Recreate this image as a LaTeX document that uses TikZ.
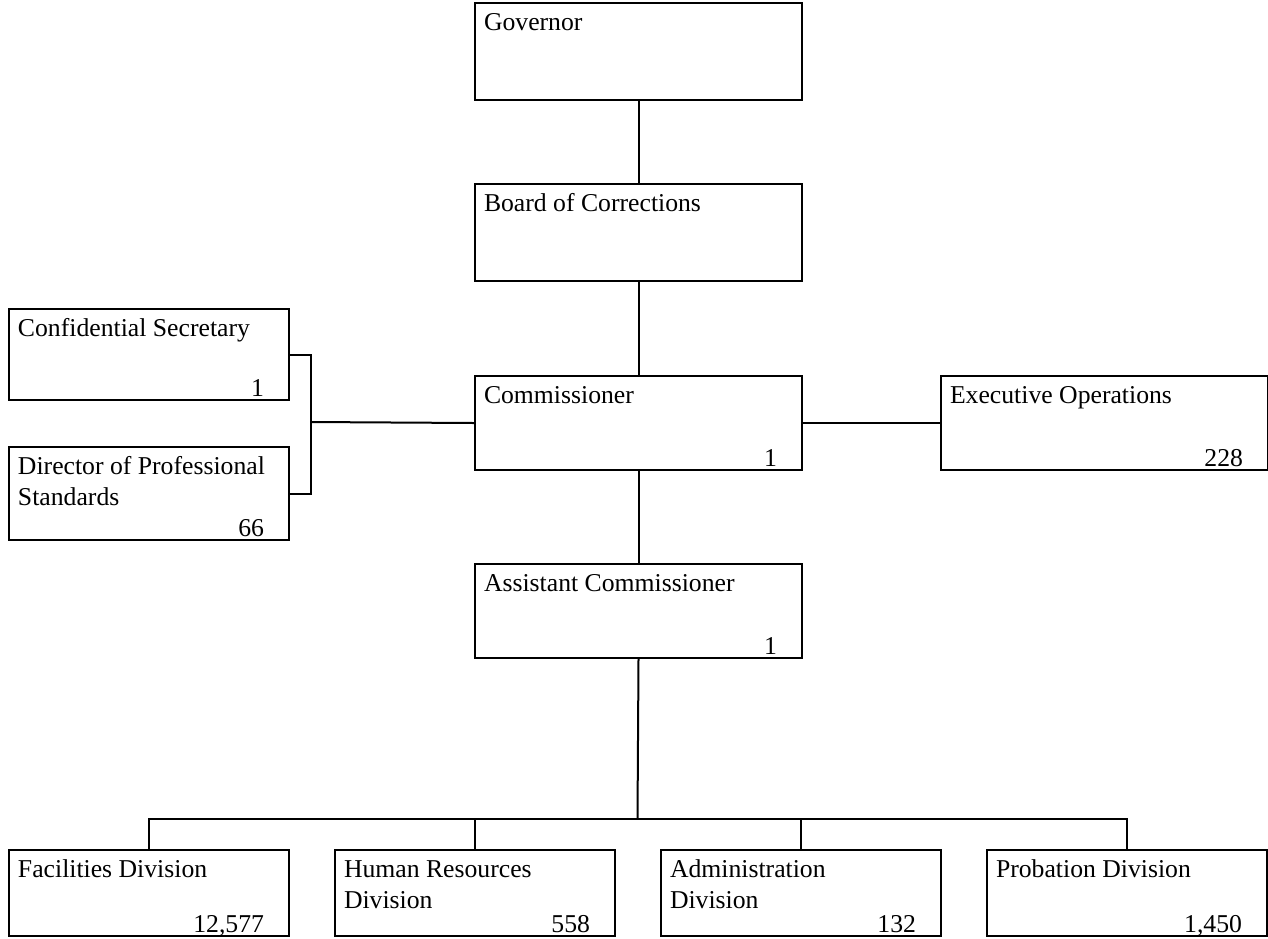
\documentclass[tikz,border=0pt]{standalone}
\usepackage{fontspec}
\setmainfont{Liberation Serif}
\usetikzlibrary{positioning,calc}

\begin{document}
\begin{tikzpicture}[
    x=0.5pt, y=-0.5pt,
    line width=1pt,
    font=\fontsize{12.85pt}{15.5pt}\selectfont,
    unit/.style={draw, rectangle, anchor=north west, minimum width=163.5pt, minimum height=#1},
    unit/.default=48.5pt,
    title/.style={anchor=north west, inner sep=0pt, xshift=4.5pt, yshift=-2.65pt, align=left, execute at begin node=\strut},
    count/.style={anchor=base east, inner sep=0pt, xshift=-12.5pt, yshift=2.5pt}
]
    \useasboundingbox (0,0) rectangle (1268,938);

    % Top of the chain
    \node[unit, label={[title]north west:Governor}] (gov) at (474,2) {};
    \node[unit, label={[title]north west:Board of Corrections}] (board) at (474,183) {};
    \node[unit=47pt, label={[title]north west:Commissioner}, label={[count]south east:1}] (comm) at (474,375) {};

    % Staff offices
    \node[unit=45.5pt, minimum width=140pt, label={[title]north west:Confidential Secretary}, label={[count]south east:1}] (conf) at (8,308) {};
    \node[unit=46.5pt, minimum width=140pt, label={[title]north west:{\strut Director of Professional\\Standards}}, label={[count]south east:66}] (dir) at (8,446) {};
    \node[unit=47pt, label={[title]north west:Executive Operations}, label={[count]south east:228}] (exec) at (940,375) {};

    \node[unit=47pt, label={[title]north west:Assistant Commissioner}, label={[count]south east:1}] (asst) at (474,563) {};

    % Divisions
    \node[unit=43pt, minimum width=140pt, label={[title]north west:Facilities Division}, label={[count]south east:12,577}] (fac) at (8,849) {};
    \node[unit=43pt, minimum width=140pt, label={[title]north west:{\strut Human Resources\\Division}}, label={[count]south east:558}] (hr) at (334,849) {};
    \node[unit=43pt, minimum width=140pt, label={[title]north west:{\strut Administration\\Division}}, label={[count]south east:132}] (adm) at (660,849) {};
    \node[unit=43pt, minimum width=140pt, label={[title]north west:Probation Division}, label={[count]south east:1,450}] (prob) at (986,849) {};

    % Connectors
    \coordinate (staff) at (311,422);
    \coordinate (bus) at (637.5,819);
    \draw (gov) -- (board);
    \draw (board) -- (comm);
    \draw (comm) -- (exec);
    \draw (comm.west) -- (staff);
    \draw (conf.east) -| (staff) |- (dir.east);
    \draw (comm) -- (asst);
    \draw (asst.south) -- (bus);
    \foreach \d in {fac,hr,adm,prob}
        \draw (bus) -| (\d.north);
\end{tikzpicture}
\end{document}
